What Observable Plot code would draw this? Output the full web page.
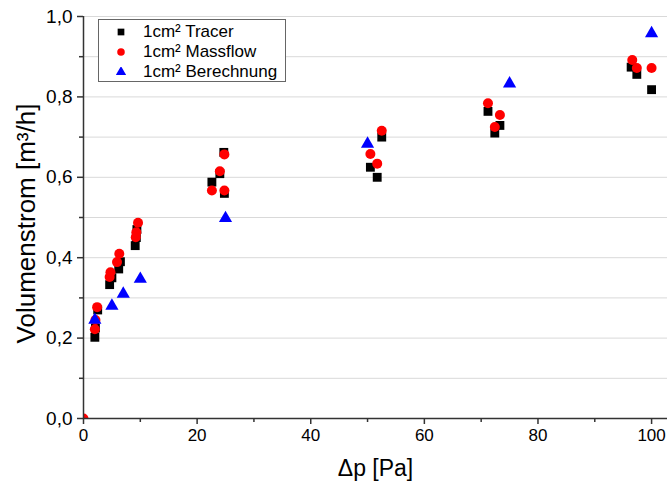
<!DOCTYPE html>
<html>
<head>
<meta charset="utf-8">
<script src="https://cdn.jsdelivr.net/npm/d3@7"></script>
<script src="https://cdn.jsdelivr.net/npm/@observablehq/plot@0.6"></script>
<style>
  html, body { margin: 0; padding: 0; background: #fff; }
  #wrap { position: relative; width: 667px; height: 481px; font-family: "Liberation Sans", Arial, sans-serif; }
  #legend { position: absolute; left: 98px; top: 19px; width: 188px; height: 63px; border: 1px solid #666; background: #fff; box-sizing: border-box; padding-top: 2px; }
  .row { display: flex; align-items: center; height: 20px; font-size: 17px; color: #000; }
  .row svg { margin-left: 17px; margin-right: 17px; }
</style>
</head>
<body>
<div id="wrap"><div id="chart"></div><div id="legend"></div></div>
<script>
// Data
const tracerX = [2.0, 2.1, 2.5, 4.6, 5.0, 6.2, 6.5, 9.1, 9.3, 9.4, 22.6, 24.0, 24.7, 24.8, 50.5, 51.7, 52.5, 71.2, 72.4, 73.3, 96.4, 97.4, 100.0];
const tracerY = [0.202, 0.225, 0.27, 0.333, 0.35, 0.372, 0.39, 0.43, 0.45, 0.47, 0.588, 0.609, 0.662, 0.56, 0.625, 0.60, 0.70, 0.764, 0.71, 0.729, 0.874, 0.856, 0.818];
const massX = [0.0, 2.0, 2.1, 2.4, 4.6, 4.75, 5.9, 6.3, 9.2, 9.3, 9.6, 22.6, 24.0, 24.8, 24.8, 50.5, 51.7, 52.5, 71.2, 72.4, 73.3, 96.6, 97.4, 100.0];
const massY = [0.0, 0.222, 0.245, 0.277, 0.352, 0.364, 0.389, 0.41, 0.451, 0.463, 0.487, 0.567, 0.615, 0.567, 0.657, 0.658, 0.634, 0.716, 0.784, 0.725, 0.755, 0.892, 0.872, 0.872];
const berX = [2, 5, 7, 10, 25, 50, 75, 100];
const berY = [0.245, 0.28, 0.31, 0.347, 0.498, 0.683, 0.833, 0.958];

const seriesNames = ["1cm² Tracer", "1cm² Massflow", "1cm² Berechnung"];
const seriesColors = ["#000000", "#ff0000", "#0000ff"];
const xLabel = "Δp [Pa]";
const yLabel = "Volumenstrom [m³/h]";

const xMajor = [0, 20, 40, 60, 80, 100];
const xMinor = [10, 30, 50, 70, 90];
const yMajor = [0, 0.2, 0.4, 0.6, 0.8, 1.0];
const yMinor = [0.1, 0.3, 0.5, 0.7, 0.9];
const yGrid = [0.1, 0.2, 0.3, 0.4, 0.5, 0.6, 0.7, 0.8, 0.9, 1.0];

const tracer = tracerX.map((x, i) => ({x, y: tracerY[i]}));
const mass = massX.map((x, i) => ({x, y: massY[i]}));
const ber = berX.map((x, i) => ({x, y: berY[i]}));
const fmt = d => d3.format(".1f")(d).replace(".", ",");
const axisColor = "#333";

const plot = Plot.plot({
  width: 667,
  height: 481,
  marginLeft: 83,
  marginTop: 16,
  marginBottom: 63,
  marginRight: 0,
  x: {domain: [0, 102.8]},
  y: {domain: [0, 1.0]},
  style: {fontFamily: "'Liberation Sans', Arial, sans-serif", fontSize: "18px", background: "#fff", color: "#000", overflow: "visible"},
  marks: [
    Plot.gridY(yGrid, {stroke: "#d9d9d9", strokeOpacity: 1}),
    Plot.dot(tracer, {x: "x", y: "y", symbol: "square", r: 5, fill: seriesColors[0], stroke: "none", clip: true}),
    Plot.dot(mass, {x: "x", y: "y", symbol: "circle", r: 5, fill: seriesColors[1], stroke: "none", clip: true}),
    Plot.dot(ber, {x: "x", y: "y", symbol: "triangle", r: 4.9, fill: seriesColors[2], stroke: "none", clip: true}),
    Plot.ruleX([0], {stroke: axisColor, strokeWidth: 1.5}),
    Plot.ruleY([0], {stroke: axisColor, strokeWidth: 1.5}),
    Plot.axisY(yMajor, {tickSize: 6, tickPadding: 5, tickFormat: fmt, stroke: axisColor, strokeWidth: 1.5, label: null, fontSize: 19}),
    Plot.axisY(yMinor, {tickSize: 4, tickFormat: () => "", stroke: axisColor, strokeWidth: 1.5, label: null}),
    Plot.axisX(xMajor, {tickSize: 6, tickPadding: 4, tickFormat: d => String(d), stroke: axisColor, strokeWidth: 1.5, label: null, fontSize: 17}),
    Plot.axisX(xMinor, {tickSize: 4, tickFormat: () => "", stroke: axisColor, strokeWidth: 1.5, label: null}),
    Plot.text([yLabel], {frameAnchor: "left", textAnchor: "middle", lineAnchor: "middle", rotate: -90, dx: -57, dy: 6, fontSize: 26, fill: "#000"}),
    Plot.text([xLabel], {frameAnchor: "bottom", textAnchor: "middle", lineAnchor: "middle", dy: 50, fontSize: 23, fill: "#000"})
  ]
});
document.getElementById("chart").appendChild(plot);

// Legend
const legend = d3.select("#legend");
seriesNames.forEach((name, i) => {
  const row = legend.append("div").attr("class", "row");
  const svg = row.append("svg").attr("width", 10).attr("height", 10);
  svg.append("path")
    .attr("transform", "translate(5,5)")
    .attr("d", d3.symbol(i === 0 ? d3.symbolSquare : i === 1 ? d3.symbolCircle : d3.symbolTriangle, 45)())
    .attr("fill", seriesColors[i]);
  row.append("span").text(name);
});
</script>
</body>
</html>
